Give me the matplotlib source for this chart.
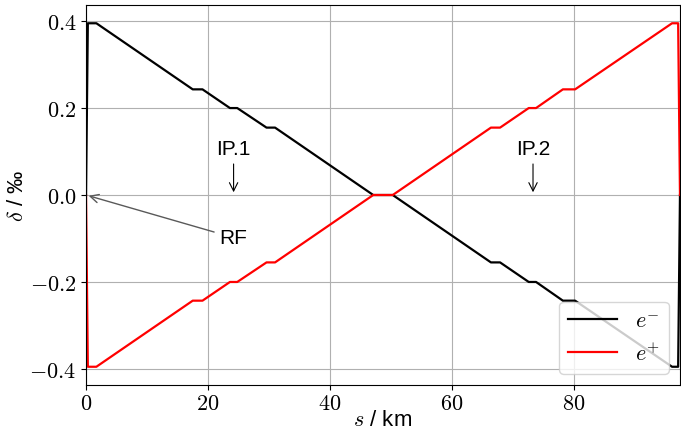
import matplotlib
matplotlib.use("Agg")
import matplotlib.pyplot as plt
from matplotlib.ticker import FuncFormatter

plt.rcParams['font.family'] = ['Liberation Sans', 'DejaVu Sans']
plt.rcParams['mathtext.fontset'] = 'cm'

# energy deviation along the ring, piecewise linear with flat RF sections
s_km = [0, 0.3, 1.7, 17.5, 19.1, 23.6, 24.8, 29.6, 31.0, 47.1, 50.3,
        66.4, 67.9, 72.6, 73.8, 78.2, 80.2, 96.1, 97.1, 97.4]
delta_eminus = [0, 0.395, 0.395, 0.243, 0.243, 0.200, 0.200, 0.155, 0.155, 0, 0,
                -0.155, -0.155, -0.200, -0.200, -0.243, -0.243, -0.395, -0.395, 0]
delta_eplus = [0, -0.395, -0.395, -0.243, -0.243, -0.200, -0.200, -0.155, -0.155, 0, 0,
               0.155, 0.155, 0.200, 0.200, 0.243, 0.243, 0.395, 0.395, 0]

ip_names = ["IP.1", "IP.2"]
ip_pos = [24.2, 73.3]

fig = plt.figure(figsize=(6.81, 4.35), dpi=100)
ax = fig.add_axes([0.1263, 0.1126, 0.8722, 0.8736])

ax.plot(s_km, delta_eminus, color='black', lw=1.6, label=r'$e^{-}$')
ax.plot(s_km, delta_eplus, color='red', lw=1.6, label=r'$e^{+}$')

for name, pos in zip(ip_names, ip_pos):
    ax.annotate(name, xy=(pos, 0.0), xytext=(pos, 0.106), ha='center', va='center',
                fontsize=15, arrowprops=dict(arrowstyle='->', color='black', lw=0.8))

ax.annotate("RF", xy=(0, 0), xytext=(21.9, -0.098), ha='left', va='center',
            fontsize=15, arrowprops=dict(arrowstyle='->', color='0.35', lw=1.0))

ax.set_xlim(0, 97.4)
ax.set_ylim(-0.437, 0.437)
ax.set_xticks([0, 20, 40, 60, 80])
ax.set_yticks([-0.4, -0.2, 0.0, 0.2, 0.4])
ax.xaxis.set_major_formatter(FuncFormatter(lambda v, p: f"${v:.0f}$"))
ax.yaxis.set_major_formatter(FuncFormatter(lambda v, p: f"${v:.1f}$"))
ax.tick_params(labelsize=16)
ax.tick_params(axis='x', pad=2)
ax.grid(True, color='#b0b0b0', lw=0.8)

ax.set_xlabel(r"$s$ / km", fontsize=16, labelpad=-3)
ax.set_ylabel(r"$\delta$ / ‰", fontsize=16, labelpad=1)

ax.legend(loc='lower right', fontsize=16, handlelength=2.2)

fig.savefig("out.png", dpi=100)
